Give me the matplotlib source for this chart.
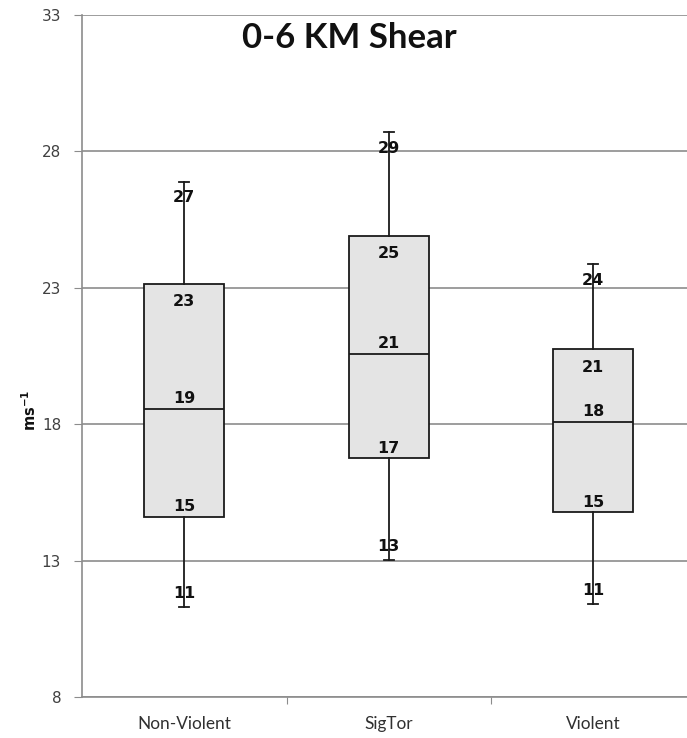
import matplotlib
matplotlib.use("Agg")
import matplotlib.pyplot as plt

categories = ["Non-Violent", "SigTor", "Violent"]
whisker_low = [11.3, 13.03, 11.41]
q1 = [14.6, 16.76, 14.78]
median = [18.54, 20.56, 18.08]
q3 = [23.15, 24.9, 20.74]
whisker_high = [26.88, 28.7, 23.87]
yticks = [8, 13, 18, 23, 28, 33]

W, H = 687, 738
fig = plt.figure(figsize=(W / 100, H / 100), dpi=100)
ax = fig.add_axes([82 / W, (H - 697) / H, (687 - 82) / W, (697 - 15) / H])

stats = []
for i, c in enumerate(categories):
    stats.append(dict(label=c, whislo=whisker_low[i], q1=q1[i], med=median[i],
                      q3=q3[i], whishi=whisker_high[i], fliers=[]))
pos = [1, 2, 3]
ax.bxp(stats, positions=pos, widths=0.39, patch_artist=True, showfliers=False,
       boxprops=dict(facecolor="#e4e4e4", edgecolor="#1a1a1a", linewidth=1.3),
       medianprops=dict(color="#1a1a1a", linewidth=1.3),
       whiskerprops=dict(color="#1a1a1a", linewidth=1.3),
       capprops=dict(color="#1a1a1a", linewidth=1.3),
       capwidths=0.05, zorder=3)

# data labels
offsets = [(whisker_high, -16), (q3, -18), (median, 11), (q1, 10), (whisker_low, 13)]
for vals, off in offsets:
    for i, v in enumerate(vals):
        ax.annotate(f"{round(v)}", (pos[i], v), xytext=(0, off), textcoords="offset pixels",
                    ha="center", va="center", fontsize=11.5, fontweight="bold",
                    family="DejaVu Sans", color="#111111", zorder=5)

ax.set_ylim(8, 33)
ax.set_xlim(0.5, 0.5 + (687 - 82) / 204.5)
ax.set_yticks(yticks)
ax.set_yticklabels([str(t) for t in yticks], fontsize=11, color="#404040", family="DejaVu Sans")
ax.yaxis.grid(True, color="#8c8c8c", linewidth=1.2, zorder=0)
ax.set_axisbelow(True)

ax.set_xticks([1.5, 2.5], minor=False)
ax.set_xticklabels([])
ax.set_xticks(pos, minor=True)
ax.set_xticklabels(categories, minor=True, fontsize=12.4, family="Lato", color="#303030")
ax.tick_params(axis="x", which="minor", length=0, pad=14)
ax.tick_params(axis="x", which="major", length=5, color="#8c8c8c", direction="out")
ax.tick_params(axis="y", length=6, color="#8c8c8c", pad=9)

for s in ["top", "right"]:
    ax.spines[s].set_visible(False)
for s in ["left", "bottom"]:
    ax.spines[s].set_color("#8c8c8c")
    ax.spines[s].set_linewidth(1.2)

fig.text(349 / W, 1 - 38 / H, "0-6 KM Shear", ha="center", va="center",
         fontsize=25, fontweight="bold", family="Lato", color="#111111")
fig.text(30 / W, 1 - 410 / H, r"$\mathbf{ms^{-1}}$", ha="center", va="center",
         rotation=90, fontsize=10.5, color="#111111")

fig.savefig("out.png", dpi=100)
